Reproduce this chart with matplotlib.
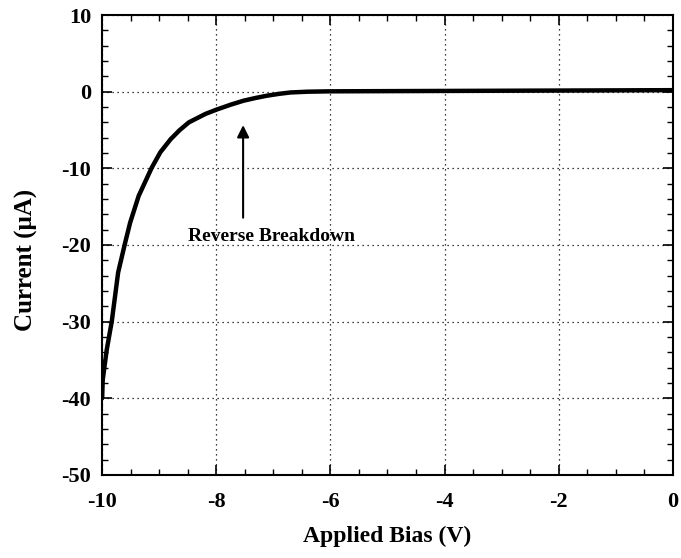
import numpy as np
import matplotlib.pyplot as plt
from matplotlib.ticker import MultipleLocator

# data
bias = [-10.0, -9.99, -9.92, -9.83, -9.72, -9.60, -9.51, -9.36, -9.13, -8.98, -8.80, -8.64,
        -8.48, -8.19, -8.0, -7.75, -7.52, -7.3, -7.11, -6.9, -6.7, -6.4, -6.0, -4.0, -2.0, 0.0]
current = [-40.0, -37.6, -33.7, -29.9, -23.6, -19.8, -17.1, -13.6, -9.9, -7.9, -6.2, -5.0,
           -4.0, -2.9, -2.35, -1.7, -1.17, -0.8, -0.52, -0.28, -0.1, 0.0, 0.05, 0.1, 0.15, 0.2]

xTicks = [-10, -8, -6, -4, -2, 0]
yTicks = [-50, -40, -30, -20, -10, 0, 10]

plt.rcParams['font.family'] = ['Liberation Serif', 'DejaVu Serif']
plt.rcParams['font.weight'] = 'bold'
plt.rcParams['axes.unicode_minus'] = False

fig = plt.figure(figsize=(6.81, 5.58), dpi=100)
ax = fig.add_axes([0.150, 0.149, 0.838, 0.824])

ax.plot(bias, current, color='black', linewidth=3.2, solid_capstyle='round', solid_joinstyle='round')

ax.set_xlim(-10, 0)
ax.set_ylim(-50, 10)
ax.set_xticks(xTicks)
ax.set_yticks(yTicks)
ax.xaxis.set_minor_locator(MultipleLocator(0.5))
ax.yaxis.set_minor_locator(MultipleLocator(2))
ax.tick_params(which='both', direction='in', top=True, right=True, labelsize=16)
ax.tick_params(which='major', length=7, width=1.2)
ax.tick_params(which='minor', length=4, width=1.0)
ax.tick_params(axis='x', which='major', pad=12)
ax.tick_params(axis='y', which='major', pad=8)
for lab in ax.get_xticklabels() + ax.get_yticklabels():
    lab.set_fontweight('bold')
for s in ax.spines.values():
    s.set_linewidth(1.5)

ax.grid(True, which='major', color='black', linestyle=(0, (1, 3)), linewidth=0.9)

ax.set_xlabel('Applied Bias (V)', fontsize=17, fontweight='bold', labelpad=10)
ax.set_ylabel('Current (\u03bcA)', fontsize=18, fontweight='bold')
ax.yaxis.set_label_coords(-0.112, 0.467)

ax.annotate('', xy=(-7.53, -4.0), xytext=(-7.53, -16.8),
            arrowprops=dict(arrowstyle='-|>', color='black', lw=1.5, mutation_scale=18))
ax.text(-7.04, -18.9, 'Reverse Breakdown', ha='center', va='center', fontsize=14, fontweight='bold')

fig.savefig('out.png', dpi=100)
